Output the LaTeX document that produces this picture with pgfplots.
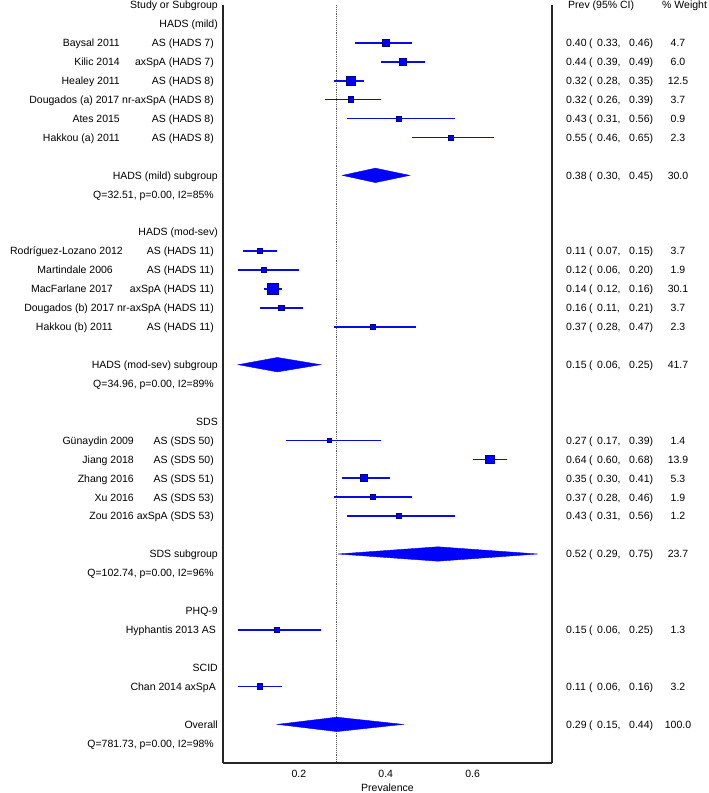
\documentclass[border=0pt]{standalone}
\usepackage{fontspec}
\setmainfont{Liberation Sans}
\usepackage{pgfplots}
\usepackage{pgfplotstable}
\pgfplotsset{compat=1.18}

\definecolor{fpblue}{RGB}{0,0,255}
\definecolor{fpline}{RGB}{10,10,225}
\definecolor{fpnavy}{RGB}{0,0,130}

\pgfplotstableread{
k est lo hi ms
2 0.40 0.33 0.46 3.4
3 0.44 0.39 0.49 3.5
4 0.32 0.28 0.35 4.3
5 0.32 0.26 0.39 2.8
6 0.43 0.31 0.56 2.4
7 0.55 0.46 0.65 2.6
13 0.11 0.07 0.15 2.8
14 0.12 0.06 0.20 2.5
15 0.14 0.12 0.16 5.8
16 0.16 0.11 0.21 2.8
17 0.37 0.28 0.47 2.6
23 0.27 0.17 0.39 2.4
24 0.64 0.60 0.68 4.4
25 0.35 0.30 0.41 3.4
26 0.37 0.28 0.46 2.5
27 0.43 0.31 0.56 2.4
33 0.15 0.06 0.25 2.4
36 0.11 0.06 0.16 2.8
}\studies

% left texts: row, xshift (px from left axis line), text
\newcommand\Lt[3]{\node[anchor=base east,inner sep=0pt,xshift=#2pt,yshift=-3.8pt] at (axis cs:0.025,-#1) {#3};}
% right texts: row, est, lo, hi, weight
\newcommand\Rt[5]{%
\node[anchor=base west,inner sep=0pt,xshift=14pt,yshift=-3.8pt] at (axis cs:0.783,-#1) {#2};%
\node[anchor=base west,inner sep=0pt,xshift=37pt,yshift=-3.8pt] at (axis cs:0.783,-#1) {(};%
\node[anchor=base west,inner sep=0pt,xshift=45pt,yshift=-3.8pt] at (axis cs:0.783,-#1) {#3,};%
\node[anchor=base west,inner sep=0pt,xshift=77pt,yshift=-3.8pt] at (axis cs:0.783,-#1) {#4)};%
\node[anchor=base,inner sep=0pt,xshift=126pt,yshift=-3.8pt] at (axis cs:0.783,-#1) {#5};}

\begin{document}
\fontsize{10.5pt}{12pt}\selectfont
\begin{tikzpicture}
\useasboundingbox (0,0) rectangle (709pt,793pt);
\begin{axis}[
  at={(223pt,30pt)}, anchor=south west,
  scale only axis, width=329pt, height=758pt,
  xmin=0.025, xmax=0.783, ymin=-40.04, ymax=0,
  axis x line*=bottom, axis y line*=box,
  axis line style={black!85, line width=1.2pt},
  xtick={0.2,0.4,0.6}, ytick=\empty,
  xticklabels={0.2,0.4,0.6},
  major tick length=0pt,
  xticklabel style={anchor=base, inner sep=0pt, yshift=-14.7pt},
  xlabel={Prevalence},
  xlabel style={at={(axis description cs:0.5,0)}, anchor=base, inner sep=0pt, yshift=-28.5pt},
  clip=false,
]
% overall reference line
\addplot[densely dotted, black!65, line width=0.9pt] coordinates {(0.287,0) (0.287,-40.04)};

% confidence intervals
\addplot[only marks, mark=none, draw=none,
  error bars/.cd, x dir=both, x explicit, error mark=none,
  error bar style={fpline, line width=1.6pt}]
  table[x=est, y expr=-\thisrow{k},
        x error plus expr=\thisrow{hi}-\thisrow{est},
        x error minus expr=\thisrow{est}-\thisrow{lo}] {\studies};

% study squares
\addplot[scatter, only marks, mark=square*,
  scatter/use mapped color={draw=fpnavy, fill=fpblue},
  mark options={line width=0.8pt},
  visualization depends on={\thisrow{ms} \as \perpointms},
  scatter/@pre marker code/.append style={/tikz/mark size=\perpointms pt}]
  table[x=est, y expr=-\thisrow{k}] {\studies};

% subgroup and overall diamonds
\addplot[fill=fpblue, draw=fpblue, line width=0.4pt] coordinates {(0.30,-9) (0.376,-8.62) (0.455,-9) (0.376,-9.38)} -- cycle;
\addplot[fill=fpblue, draw=fpblue, line width=0.4pt] coordinates {(0.06,-19) (0.15,-18.62) (0.25,-19) (0.15,-19.38)} -- cycle;
\addplot[fill=fpblue, draw=fpblue, line width=0.4pt] coordinates {(0.29,-29) (0.52,-28.62) (0.75,-29) (0.52,-29.38)} -- cycle;
\addplot[fill=fpblue, draw=fpblue, line width=0.4pt] coordinates {(0.15,-38) (0.287,-37.62) (0.44,-38) (0.287,-38.38)} -- cycle;

% left column
\Lt{0}{-5}{Study or Subgroup}
\Lt{1}{-5}{HADS (mild)}
\Lt{2}{-103}{Baysal 2011}\Lt{2}{-9}{AS (HADS 7)}
\Lt{3}{-103}{Kilic 2014}\Lt{3}{-9}{axSpA (HADS 7)}
\Lt{4}{-103}{Healey 2011}\Lt{4}{-9}{AS (HADS 8)}
\Lt{5}{-9}{Dougados (a) 2017 nr-axSpA (HADS 8)}
\Lt{6}{-103}{Ates 2015}\Lt{6}{-9}{AS (HADS 8)}
\Lt{7}{-103}{Hakkou (a) 2011}\Lt{7}{-9}{AS (HADS 8)}
\Lt{9}{-5}{HADS (mild) subgroup}
\Lt{10}{-9}{Q=32.51, p=0.00, I2=85\%}
\Lt{12}{-5}{HADS (mod-sev)}
\Lt{13}{-100}{Rodríguez-Lozano 2012}\Lt{13}{-9}{AS (HADS 11)}
\Lt{14}{-110}{Martindale 2006}\Lt{14}{-9}{AS (HADS 11)}
\Lt{15}{-110}{MacFarlane 2017}\Lt{15}{-9}{axSpA (HADS 11)}
\Lt{16}{-9}{Dougados (b) 2017 nr-axSpA (HADS 11)}
\Lt{17}{-110}{Hakkou (b) 2011}\Lt{17}{-9}{AS (HADS 11)}
\Lt{19}{-5}{HADS (mod-sev) subgroup}
\Lt{20}{-9}{Q=34.96, p=0.00, I2=89\%}
\Lt{22}{-5}{SDS}
\Lt{23}{-89}{Günaydin 2009}\Lt{23}{-9}{AS (SDS 50)}
\Lt{24}{-89}{Jiang 2018}\Lt{24}{-9}{AS (SDS 50)}
\Lt{25}{-89}{Zhang 2016}\Lt{25}{-9}{AS (SDS 51)}
\Lt{26}{-89}{Xu 2016}\Lt{26}{-9}{AS (SDS 53)}
\Lt{27}{-9}{Zou 2016 axSpA (SDS 53)}
\Lt{29}{-5}{SDS subgroup}
\Lt{30}{-9}{Q=102.74, p=0.00, I2=96\%}
\Lt{32}{-5}{PHQ-9}
\Lt{33}{-7}{Hyphantis 2013 AS}
\Lt{35}{-5}{SCID}
\Lt{36}{-7}{Chan 2014 axSpA}
\Lt{38}{-5}{Overall}
\Lt{39}{-9}{Q=781.73, p=0.00, I2=98\%}

% right columns
\node[anchor=base west,inner sep=0pt,xshift=16pt,yshift=-3.8pt] at (axis cs:0.783,0) {Prev (95\% CI)};
\node[anchor=base west,inner sep=0pt,xshift=110pt,yshift=-3.8pt] at (axis cs:0.783,0) {\% Weight};
\Rt{2}{0.40}{0.33}{0.46}{4.7}
\Rt{3}{0.44}{0.39}{0.49}{6.0}
\Rt{4}{0.32}{0.28}{0.35}{12.5}
\Rt{5}{0.32}{0.26}{0.39}{3.7}
\Rt{6}{0.43}{0.31}{0.56}{0.9}
\Rt{7}{0.55}{0.46}{0.65}{2.3}
\Rt{9}{0.38}{0.30}{0.45}{30.0}
\Rt{13}{0.11}{0.07}{0.15}{3.7}
\Rt{14}{0.12}{0.06}{0.20}{1.9}
\Rt{15}{0.14}{0.12}{0.16}{30.1}
\Rt{16}{0.16}{0.11}{0.21}{3.7}
\Rt{17}{0.37}{0.28}{0.47}{2.3}
\Rt{19}{0.15}{0.06}{0.25}{41.7}
\Rt{23}{0.27}{0.17}{0.39}{1.4}
\Rt{24}{0.64}{0.60}{0.68}{13.9}
\Rt{25}{0.35}{0.30}{0.41}{5.3}
\Rt{26}{0.37}{0.28}{0.46}{1.9}
\Rt{27}{0.43}{0.31}{0.56}{1.2}
\Rt{29}{0.52}{0.29}{0.75}{23.7}
\Rt{33}{0.15}{0.06}{0.25}{1.3}
\Rt{36}{0.11}{0.06}{0.16}{3.2}
\Rt{38}{0.29}{0.15}{0.44}{100.0}
\end{axis}
\end{tikzpicture}
\end{document}
